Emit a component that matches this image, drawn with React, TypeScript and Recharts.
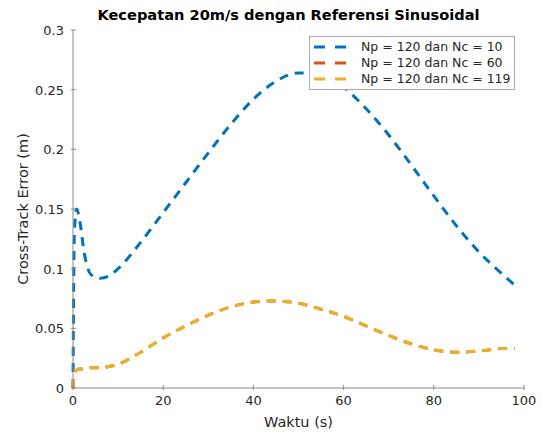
import React from 'react';
import { LineChart, Line, XAxis, YAxis } from 'recharts';

const waktu = [0, 0.3, 0.8, 1.5, 2.5, 4, 6, 8, 10, 15, 20, 25, 30, 35, 40, 45, 50, 55, 60, 65, 70, 75, 80, 85, 90, 95, 98];
const nc10 = [0, 0.13, 0.15, 0.14, 0.113, 0.095, 0.092, 0.094, 0.1, 0.122, 0.147, 0.172, 0.197, 0.221, 0.242, 0.257, 0.264, 0.262, 0.252, 0.234, 0.212, 0.187, 0.161, 0.136, 0.114, 0.096, 0.086];
const nc60 = [0, 0.012, 0.015, 0.016, 0.016, 0.017, 0.017, 0.018, 0.02, 0.03, 0.042, 0.052, 0.061, 0.068, 0.072, 0.073, 0.071, 0.066, 0.06, 0.052, 0.044, 0.037, 0.032, 0.03, 0.031, 0.033, 0.033];
const nc119 = [0, 0.012, 0.015, 0.016, 0.016, 0.017, 0.017, 0.018, 0.02, 0.03, 0.042, 0.052, 0.061, 0.068, 0.072, 0.073, 0.071, 0.066, 0.06, 0.052, 0.044, 0.037, 0.032, 0.03, 0.031, 0.033, 0.033];
const xTicks = [0, 20, 40, 60, 80, 100];
const yTicks = [0, 0.05, 0.1, 0.15, 0.2, 0.25, 0.3];

const data = waktu.map((t, i) => ({ t, a: nc10[i], b: nc60[i], c: nc119[i] }));

const series = [
  { key: 'a', name: 'Np = 120 dan Nc = 10', color: '#0072BD' },
  { key: 'b', name: 'Np = 120 dan Nc = 60', color: '#D95319' },
  { key: 'c', name: 'Np = 120 dan Nc = 119', color: '#EDB120' },
];

const font = 'DejaVu Sans';
const textColor = '#262626';
const axisColor = '#888';

const XTick = (props: any) => {
  const { x, y, payload } = props;
  return (
    <g>
      <line x1={x} y1={y} x2={x} y2={y - 5} stroke={axisColor} />
      <text x={x} y={y + 15} textAnchor='middle' fontSize={13} fontFamily={font} fill={textColor}>
        {payload.value}
      </text>
    </g>
  );
};

const YTick = (props: any) => {
  const { x, y, payload } = props;
  return (
    <g>
      <line x1={x} y1={y} x2={x + 5} y2={y} stroke={axisColor} />
      <text x={x - 7} y={y + 5} textAnchor='end' fontSize={13} fontFamily={font} fill={textColor}>
        {payload.value}
      </text>
    </g>
  );
};

export default function App() {
  return (
    <div style={{ position: 'absolute', left: 0, top: 0, width: 542, height: 434, background: '#fff' }}>
      <div
        style={{
          position: 'absolute',
          top: 6,
          left: 63,
          width: 451,
          textAlign: 'center',
          fontFamily: font,
          fontWeight: 'bold',
          fontSize: 14.6,
          color: '#000',
        }}
      >
        Kecepatan 20m/s dengan Referensi Sinusoidal
      </div>
      <LineChart width={542} height={434} data={data} margin={{ top: 30, right: 18, left: 0, bottom: 0 }}>
        <XAxis
          dataKey='t'
          type='number'
          domain={[0, 100]}
          ticks={xTicks}
          height={46}
          tickSize={0}
          tick={<XTick />}
          stroke={axisColor}
          label={{ value: 'Waktu (s)', position: 'center', dy: 11, fontSize: 14.5, fontFamily: font, fill: textColor }}
        />
        <YAxis
          type='number'
          domain={[0, 0.3]}
          ticks={yTicks}
          width={73}
          tickSize={0}
          tick={<YTick />}
          stroke={axisColor}
          label={{ value: 'Cross-Track Error (m)', angle: -90, position: 'center', dx: -14, fontSize: 14.5, fontFamily: font, fill: textColor }}
        />
        {series.map((s) => (
          <Line
            key={s.key}
            dataKey={s.key}
            name={s.name}
            type='monotone'
            stroke={s.color}
            strokeWidth={3}
            strokeDasharray='9 7'
            dot={false}
            isAnimationActive={false}
          />
        ))}
      </LineChart>
      <div
        style={{
          position: 'absolute',
          top: 36,
          left: 309,
          width: 204,
          border: '1px solid #aaa',
          background: '#fff',
          padding: '2px 0',
          fontFamily: font,
          fontSize: 12.5,
          color: textColor,
          lineHeight: '16px',
        }}
      >
        {series.map((s) => (
          <div key={s.key} style={{ display: 'flex', alignItems: 'center' }}>
            <svg width={40} height={16} style={{ marginLeft: 3 }}>
              <line x1={1} y1={8} x2={36} y2={8} stroke={s.color} strokeWidth={3} strokeDasharray='11 10' />
            </svg>
            <span style={{ marginLeft: 8 }}>{s.name}</span>
          </div>
        ))}
      </div>
    </div>
  );
}
